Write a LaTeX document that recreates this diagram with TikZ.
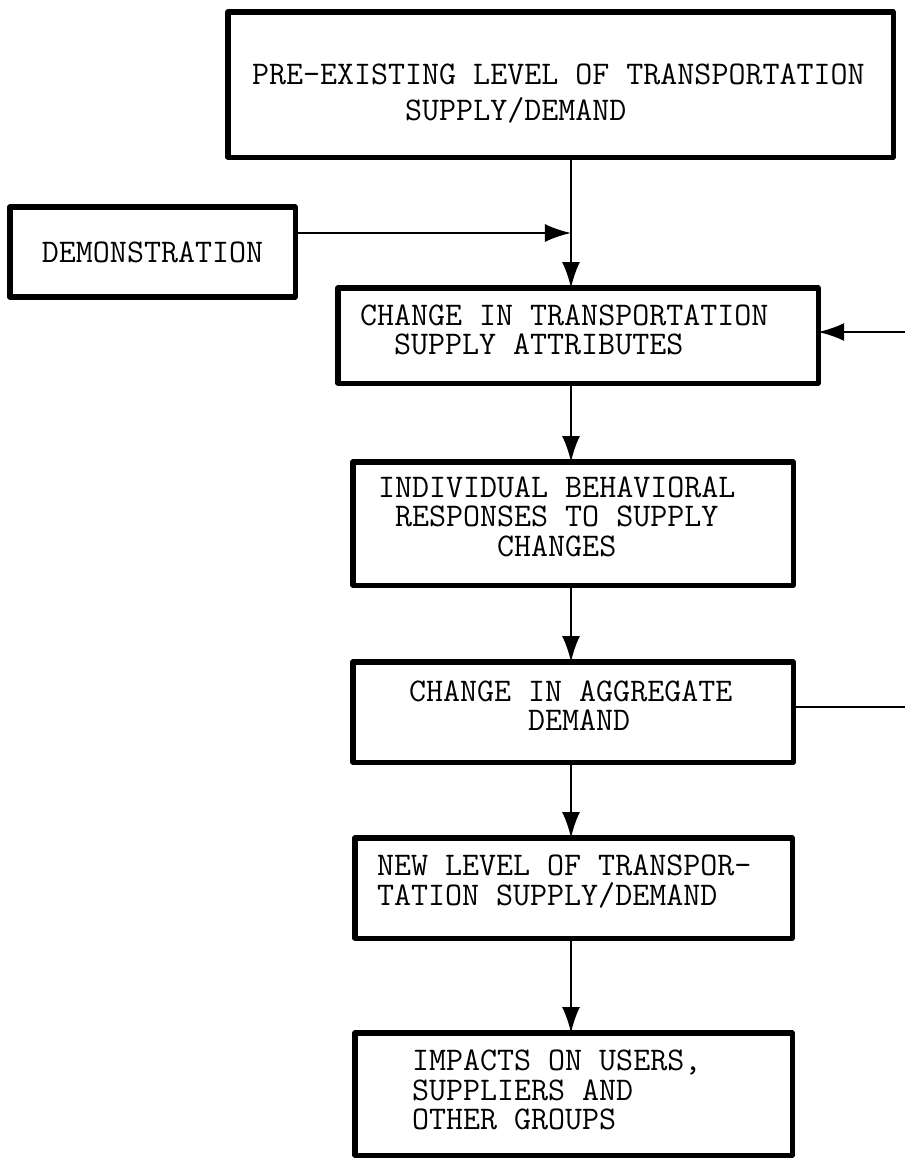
\documentclass[tikz,border=0pt]{standalone}
\usetikzlibrary{arrows.meta}
\newcommand\boxfont{\ttfamily\fontsize{23.5}{21}\selectfont}
\newcommand\monospace{\spaceskip=\fontcharwd\font`A\relax\xspaceskip=\spaceskip}
\newcommand\ind[1]{\hspace*{#1\fontcharwd\font`A}}
\begin{document}
\begin{tikzpicture}[x=0.025cm, y=-0.025cm, line join=round, line cap=round,
    font=\boxfont, >={Latex[length=6.5mm,width=4.5mm]},
    box/.style={draw, line width=3.6pt, rectangle, anchor=north west, outer sep=0pt, inner ysep=0pt, align=left,
        execute at begin node=\monospace},
    link/.style={line width=1.6pt}]
    \useasboundingbox (0,0) rectangle (905,1159);
    % boxes
    \node[box, text width=15.425cm, inner xsep=0.6cm, minimum height=3.625cm, text height=27.5pt] (pre) at (228,12)
        {PRE-EXISTING LEVEL OF TRANSPORTATION\\[4pt]\ind{9}SUPPLY/DEMAND};
    \node[box, align=center, minimum width=7.125cm, minimum height=2.25cm] (demo) at (10,207) {DEMONSTRATION};
    \node[box, text width=10.9cm, inner xsep=0.55cm, minimum height=2.375cm, text depth=29.5pt] (change) at (338,288)
        {CHANGE IN TRANSPORTATION\\\ind{2}SUPPLY ATTRIBUTES};
    \node[box, text width=9.75cm, inner xsep=0.625cm, minimum height=3.075cm, text depth=52pt] (indiv) at (353,462)
        {INDIVIDUAL BEHAVIORAL\\\ind{1}RESPONSES TO SUPPLY\\\ind{7}CHANGES};
    \node[box, text width=8.2cm, inner xsep=1.4cm, minimum height=2.5cm, text depth=30pt] (agg) at (353,662)
        {CHANGE IN AGGREGATE\\\ind{7}DEMAND};
    \node[box, text width=9.825cm, inner xsep=0.55cm, minimum height=2.5cm, text depth=32pt] (new) at (355,838)
        {NEW LEVEL OF TRANSPOR-\\TATION SUPPLY/DEMAND};
    \node[box, text width=8.075cm, inner xsep=1.425cm, minimum height=3.05cm, text depth=48pt] (impact) at (355,1033)
        {IMPACTS ON USERS,\\SUPPLIERS AND\\OTHER GROUPS};
    % connectors
    \coordinate (meet) at (571,233);
    \coordinate (fbin) at (905,332);
    \coordinate (fbout) at (905,707);
    \draw[link,->] (pre.south -| meet) -- (meet |- change.north);
    \draw[link,->] (meet -| demo.east) -- (meet);
    \draw[link,->] (fbin) -- (fbin -| change.east);
    \draw[link,->] (meet |- change.south) -- (meet |- indiv.north);
    \draw[link,->] (meet |- indiv.south) -- (meet |- agg.north);
    \draw[link] (fbout -| agg.east) -- (fbout);
    \draw[link,->] (meet |- agg.south) -- (meet |- new.north);
    \draw[link,->] (meet |- new.south) -- (meet |- impact.north);
\end{tikzpicture}
\end{document}
